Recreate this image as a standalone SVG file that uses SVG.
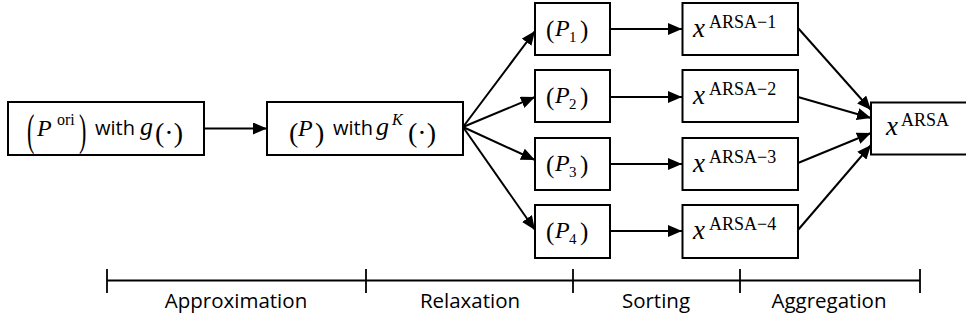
<svg xmlns="http://www.w3.org/2000/svg" width="966" height="322" viewBox="0 0 966 322">
<defs>
<marker id="ah" markerUnits="userSpaceOnUse" markerWidth="14" markerHeight="12" viewBox="0 0 14 12" refX="14" refY="6" orient="auto">
<path d="M0,0 L14,6 L0,12 Z" fill="#000"/>
</marker>
</defs>
<style>
.box{fill:#fff;stroke:#000;stroke-width:2}
.m{font-family:"Liberation Serif","Times New Roman",serif;fill:#000}
.i{font-style:italic}
.s{font-family:"Open Sans","Liberation Sans",sans-serif;font-size:20px;fill:#000}
.lb{font-family:"Open Sans","Liberation Sans",sans-serif;font-size:20.5px;fill:#000}
.c{stroke:#000;stroke-width:2;fill:none;marker-end:url(#ah)}
.tl{stroke:#000;stroke-width:1.8;fill:none}
</style>
<rect width="966" height="322" fill="#fff"/>

<g id="connectors">
<line class="c" x1="204" y1="128.5" x2="267" y2="128.5"/>
<line class="c" x1="463" y1="127" x2="535" y2="31"/>
<line class="c" x1="463" y1="127" x2="535" y2="97"/>
<line class="c" x1="463" y1="127" x2="535" y2="160"/>
<line class="c" x1="463" y1="127" x2="535" y2="230"/>
<line class="c" x1="610" y1="29" x2="682" y2="29"/>
<line class="c" x1="610" y1="97" x2="682" y2="97"/>
<line class="c" x1="610" y1="164" x2="682" y2="164"/>
<line class="c" x1="610" y1="231" x2="682" y2="231"/>
<line class="c" x1="798" y1="28" x2="871" y2="110"/>
<line class="c" x1="798" y1="97" x2="871" y2="118"/>
<line class="c" x1="798" y1="163" x2="871" y2="133"/>
<line class="c" x1="798" y1="230" x2="871" y2="145"/>
</g>

<g id="n_pori">
<rect class="box" x="8" y="102" width="196" height="53"/>
<text class="m" font-size="22" transform="translate(27,145) scale(1,2)">(</text>
<text class="m i" font-size="24" x="37" y="136">P</text>
<text class="m" font-size="16" x="57" y="125">ori</text>
<text class="m" font-size="22" transform="translate(79,145) scale(1,2)">)</text>
<text class="s" x="95" y="135">with</text>
<text class="m i" font-size="26" x="140" y="135">g</text>
<text class="m" font-size="28" x="155" y="142">(·)</text>
</g>

<g id="n_p">
<rect class="box" x="267" y="102" width="196" height="53"/>
<text class="m" font-size="28" x="289" y="142">(</text>
<text class="m i" font-size="24" x="298" y="136">P</text>
<text class="m" font-size="28" x="315" y="142">)</text>
<text class="s" x="333" y="135">with</text>
<text class="m i" font-size="26" x="376" y="135">g</text>
<text class="m i" font-size="16" x="392" y="125">K</text>
<text class="m" font-size="28" x="408" y="142">(·)</text>
</g>

<g id="n_p1">
<rect class="box" x="535" y="3" width="75" height="52"/>
<text class="m" font-size="25" x="546" y="38">(</text>
<text class="m i" font-size="24" x="555" y="36">P</text>
<text class="m" font-size="15" x="569" y="42">1</text>
<text class="m" font-size="25" x="580" y="38">)</text>
</g>
<g id="n_p2">
<rect class="box" x="535" y="70" width="75" height="52"/>
<text class="m" font-size="25" x="546" y="105">(</text>
<text class="m i" font-size="24" x="555" y="103">P</text>
<text class="m" font-size="15" x="569" y="109">2</text>
<text class="m" font-size="25" x="580" y="105">)</text>
</g>
<g id="n_p3">
<rect class="box" x="535" y="138" width="75" height="52"/>
<text class="m" font-size="25" x="546" y="173">(</text>
<text class="m i" font-size="24" x="555" y="171">P</text>
<text class="m" font-size="15" x="569" y="177">3</text>
<text class="m" font-size="25" x="580" y="173">)</text>
</g>
<g id="n_p4">
<rect class="box" x="535" y="205" width="75" height="53"/>
<text class="m" font-size="25" x="546" y="240">(</text>
<text class="m i" font-size="24" x="555" y="238">P</text>
<text class="m" font-size="15" x="569" y="244">4</text>
<text class="m" font-size="25" x="580" y="240">)</text>
</g>

<g id="n_x1">
<rect class="box" x="682.5" y="3" width="115.5" height="52"/>
<text class="m i" font-size="27" x="693" y="37">x</text>
<text class="m" font-size="18" x="709" y="28">ARSA−1</text>
</g>
<g id="n_x2">
<rect class="box" x="682.5" y="70" width="115.5" height="52"/>
<text class="m i" font-size="27" x="693" y="104">x</text>
<text class="m" font-size="18" x="709" y="95">ARSA−2</text>
</g>
<g id="n_x3">
<rect class="box" x="682.5" y="138" width="115.5" height="52"/>
<text class="m i" font-size="27" x="693" y="172">x</text>
<text class="m" font-size="18" x="709" y="163">ARSA−3</text>
</g>
<g id="n_x4">
<rect class="box" x="682.5" y="205" width="115.5" height="53"/>
<text class="m i" font-size="27" x="693" y="239">x</text>
<text class="m" font-size="18" x="709" y="230">ARSA−4</text>
</g>

<g id="n_xarsa">
<rect class="box" x="871" y="102.5" width="110" height="52"/>
<text class="m i" font-size="27" x="886" y="135">x</text>
<text class="m" font-size="18" x="901" y="126">ARSA</text>
</g>

<g id="timeline">
<line class="tl" x1="107" y1="280.5" x2="920" y2="280.5"/>
<line class="tl" x1="107" y1="269" x2="107" y2="293"/>
<line class="tl" x1="366" y1="269" x2="366" y2="293"/>
<line class="tl" x1="573" y1="269" x2="573" y2="293"/>
<line class="tl" x1="740" y1="269" x2="740" y2="293"/>
<line class="tl" x1="920" y1="269" x2="920" y2="293"/>
<text class="lb" x="236" y="308" text-anchor="middle">Approximation</text>
<text class="lb" x="470" y="308" text-anchor="middle">Relaxation</text>
<text class="lb" x="656" y="308" text-anchor="middle">Sorting</text>
<text class="lb" x="829" y="308" text-anchor="middle">Aggregation</text>
</g>
</svg>
